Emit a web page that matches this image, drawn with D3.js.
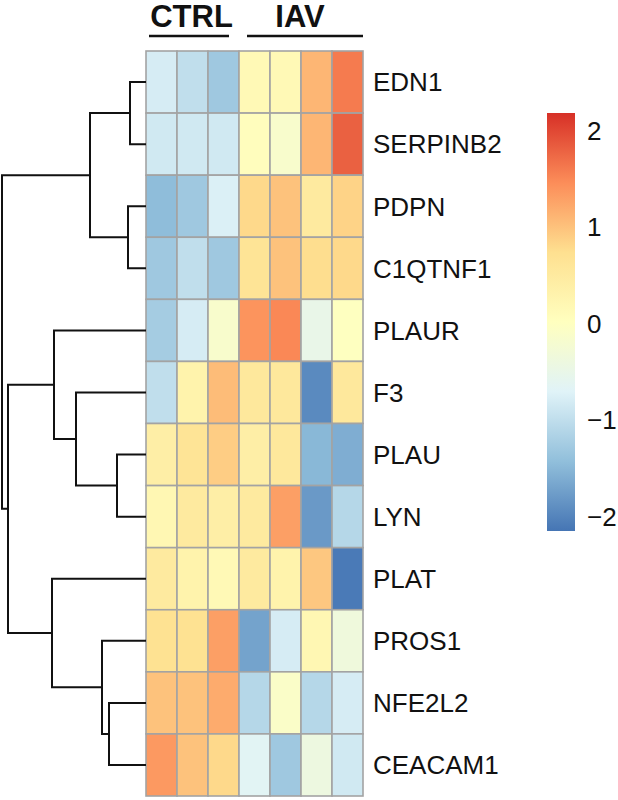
<!DOCTYPE html>
<html>
<head>
<meta charset="utf-8">
<script src="https://cdn.jsdelivr.net/npm/d3@7"></script>
<style>
  body { margin: 0; background: #fff; }
  text { font-family: "Liberation Sans", Arial, sans-serif; fill: #111; }
</style>
</head>
<body>
<svg id="chart" width="618" height="800"></svg>
<script>
// samples (columns) and groups
const samples = ["C1", "C2", "C3", "I1", "I2", "I3", "I4"];
const groups = [
  { name: "CTRL", from: 0, to: 3 },
  { name: "IAV", from: 3, to: 7 }
];

// genes in dendrogram order
const genes = ["EDN1", "SERPINB2", "PDPN", "C1QTNF1", "PLAUR", "F3",
  "PLAU", "LYN", "PLAT", "PROS1", "NFE2L2", "CEACAM1"];

// row-scaled expression (z-scores), one array per gene
const EDN1     = [-0.8, -1.0, -1.3,  0.15,  0.15,  1.1,  1.6];
const SERPINB2 = [-0.85, -0.85, -0.85, 0.05, -0.15, 1.1,  1.8];
const PDPN     = [-1.45, -1.3, -0.75, 0.8,  1.0,  0.5,  0.85];
const C1QTNF1  = [-1.3, -1.0, -1.3,  0.65,  1.0,  0.75, 0.8];
const PLAUR    = [-1.25, -0.8, -0.15, 1.4, 1.5, -0.5, 0.0];
const F3       = [-1.0,  0.3,  1.05, 0.55,  0.55, -1.95, 0.55];
const PLAU     = [0.4,  0.65, 0.9,  0.4,   0.55, -1.5, -1.6];
const LYN      = [0.2,  0.5,  0.4,  0.5,   1.3,  -1.8, -1.1];
const PLAT     = [0.5,  0.3,  0.15, 0.5,   0.3,   0.95, -2.1];
const PROS1    = [0.7,  0.7,  1.3, -1.7, -0.8,   0.2, -0.35];
const NFE2L2   = [1.0,  1.0,  1.2,  -1.1, -0.1,  -1.1, -0.8];
const CEACAM1  = [1.35,  1.0,  0.8,  -0.65, -1.3, -0.4, -0.85];
const values = [EDN1, SERPINB2, PDPN, C1QTNF1, PLAUR, F3, PLAU, LYN, PLAT, PROS1, NFE2L2, CEACAM1];

// row clustering tree (merge heights)
const tree = { h: 14.4, children: [
  { h: 5.6, children: [
    { h: 1.6, children: [{ name: "EDN1" }, { name: "SERPINB2" }] },
    { h: 1.8, children: [{ name: "PDPN" }, { name: "C1QTNF1" }] }
  ] },
  { h: 13.8, children: [
    { h: 9.2, children: [
      { name: "PLAUR" },
      { h: 7.0, children: [
        { name: "F3" },
        { h: 2.9, children: [{ name: "PLAU" }, { name: "LYN" }] }
      ] }
    ] },
    { h: 9.4, children: [
      { name: "PLAT" },
      { h: 4.4, children: [
        { name: "PROS1" },
        { h: 3.7, children: [{ name: "NFE2L2" }, { name: "CEACAM1" }] }
      ] }
    ] }
  ] }
] };

const legendTicks = [2, 1, 0, -1, -2];
const palette = ["#4575B4", "#91BFDB", "#E0F3F8", "#FFFFBF", "#FEE090", "#FC8D59", "#D73027"];
const zMin = -2.15, zMax = 2.18;

const svg = d3.select("#chart");

const x = d3.scaleBand().domain(d3.range(samples.length)).range([146, 363]);
const y = d3.scaleBand().domain(genes).range([51, 796]);
const color = d3.scaleLinear()
  .domain(d3.range(palette.length).map(i => zMin + (zMax - zMin) * i / (palette.length - 1)))
  .range(palette)
  .clamp(true);

// cells
svg.append("g")
  .selectAll("g")
  .data(values)
  .join("g")
  .each(function (row, i) {
    d3.select(this).selectAll("rect")
      .data(row)
      .join("rect")
      .attr("x", (d, j) => x(j))
      .attr("y", y(genes[i]))
      .attr("width", x.bandwidth())
      .attr("height", y.bandwidth())
      .attr("fill", d => color(d))
      .attr("stroke", "#a3a3a3")
      .attr("stroke-width", 1.6);
  });

// row labels
svg.append("g")
  .selectAll("text")
  .data(genes)
  .join("text")
  .attr("x", 373)
  .attr("y", d => y(d) + y.bandwidth() / 2)
  .attr("dy", "0.36em")
  .attr("font-size", 26)
  .text(d => d);

// group headers
const head = svg.append("g");
head.selectAll("text")
  .data(groups)
  .join("text")
  .attr("x", d => (x(d.from) + x(d.to - 1) + x.bandwidth()) / 2 - 1)
  .attr("y", 27)
  .attr("text-anchor", "middle")
  .attr("font-size", 31)
  .attr("font-weight", "bold")
  .text(d => d.name);
head.selectAll("line")
  .data(groups)
  .join("line")
  .attr("x1", d => x(d.from) + (d.from === 0 ? 3 : 8))
  .attr("x2", d => x(d.to - 1) + x.bandwidth() - (d.to === samples.length ? 0 : 10))
  .attr("y1", 36)
  .attr("y2", 36)
  .attr("stroke", "#111")
  .attr("stroke-width", 2.6);

// dendrogram
const root = d3.hierarchy(tree);
const hx = d3.scaleLinear().domain([0, root.data.h]).range([146, 2]);
root.eachAfter(n => {
  n.py = n.children ? d3.mean(n.children, c => c.py) : y(n.data.name) + y.bandwidth() / 2;
  n.px = hx(n.children ? n.data.h : 0);
});
const dend = svg.append("g")
  .attr("fill", "none")
  .attr("stroke", "#111")
  .attr("stroke-width", 2);
dend.selectAll("path")
  .data(root.descendants().filter(n => n.children))
  .join("path")
  .attr("d", n => {
    const [a, b] = n.children;
    return `M${a.px},${a.py}H${n.px}V${b.py}H${b.px}`;
  });

// colour key
const keyY = d3.scaleLinear().domain([zMin, zMax]).range([531, 113]);
const grad = svg.append("defs").append("linearGradient")
  .attr("id", "key")
  .attr("x1", 0).attr("y1", 1).attr("x2", 0).attr("y2", 0);
grad.selectAll("stop")
  .data(color.domain())
  .join("stop")
  .attr("offset", d => (d - zMin) / (zMax - zMin))
  .attr("stop-color", d => color(d));
svg.append("rect")
  .attr("x", 547)
  .attr("y", keyY(zMax))
  .attr("width", 28)
  .attr("height", keyY(zMin) - keyY(zMax))
  .attr("fill", "url(#key)");
svg.append("g")
  .selectAll("text")
  .data(legendTicks)
  .join("text")
  .attr("x", 587)
  .attr("y", d => keyY(d))
  .attr("dy", "0.36em")
  .attr("font-size", 26)
  .text(d => d < 0 ? "\u2212" + Math.abs(d) : d);
</script>
</body>
</html>
